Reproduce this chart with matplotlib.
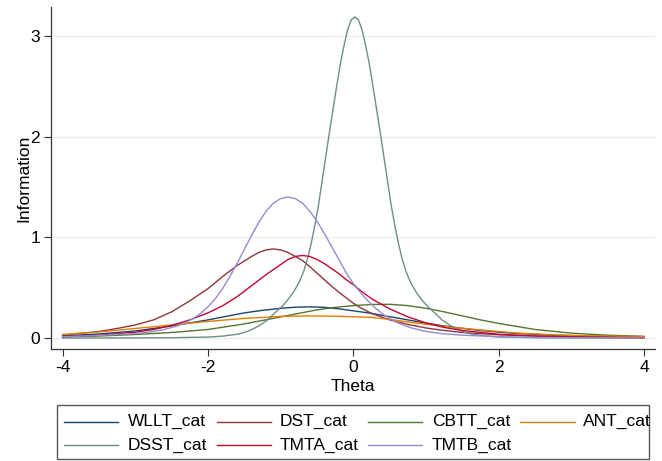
import matplotlib
matplotlib.use("Agg")
import matplotlib.pyplot as plt
from matplotlib.lines import Line2D
from matplotlib.patches import Rectangle

plt.rcParams['font.family'] = ['Liberation Sans', 'DejaVu Sans']

# ---- data (theta, information) ----
wllt_theta = [-4, -3.5, -3, -2.5, -2, -1.5, -1.25, -1, -0.8, -0.6, -0.4, -0.2, 0, 0.25, 0.5, 0.75, 1, 1.25,
              1.5, 1.75, 2, 2.25, 2.75, 3.25, 4]
wllt_info = [0.022, 0.04, 0.07, 0.12, 0.18, 0.25, 0.275, 0.295, 0.306, 0.31, 0.305, 0.29, 0.27, 0.245, 0.212, 0.18,
             0.148, 0.12, 0.096, 0.075, 0.058, 0.045, 0.028, 0.018, 0.01]

dst_theta = [-4, -3.5, -3.25, -3, -2.75, -2.5, -2.25, -2, -1.8, -1.6, -1.4, -1.3, -1.2, -1.1, -1, -0.9, -0.8,
             -0.7, -0.6, -0.5, -0.4, -0.3, -0.2, -0.1, 0, 0.1, 0.25, 0.5, 0.75, 1, 1.25, 1.5, 2, 2.5, 3, 4]
dst_info = [0.03, 0.065, 0.095, 0.13, 0.18, 0.26, 0.37, 0.49, 0.61, 0.72, 0.81, 0.85, 0.875, 0.885, 0.875, 0.85,
            0.81, 0.77, 0.71, 0.645, 0.58, 0.515, 0.455, 0.40, 0.345, 0.30, 0.245, 0.18, 0.135, 0.10, 0.075,
            0.055, 0.032, 0.02, 0.013, 0.006]

cbtt_theta = [-4, -3.5, -3, -2.5, -2, -1.5, -1, -0.5, -0.25, 0, 0.25, 0.5, 0.75, 1, 1.25, 1.5, 1.75, 2,
              2.5, 3, 3.5, 4]
cbtt_info = [0.012, 0.02, 0.035, 0.055, 0.085, 0.14, 0.21, 0.28, 0.305, 0.322, 0.333, 0.335, 0.322, 0.295,
             0.26, 0.22, 0.18, 0.145, 0.085, 0.048, 0.028, 0.017]

ant_theta = [-4, -3.5, -3, -2.5, -2, -1.5, -1, -0.6, -0.2, 0.25, 0.5, 0.75, 1, 1.25, 1.75, 2.25, 2.75, 3.25, 4]
ant_info = [0.035, 0.06, 0.095, 0.13, 0.165, 0.195, 0.215, 0.22, 0.216, 0.205, 0.185, 0.16, 0.137, 0.115,
            0.08, 0.05, 0.032, 0.022, 0.014]

dsst_theta = [-4, -3, -2.5, -1.98, -1.78, -1.58, -1.48, -1.38, -1.28, -1.18, -1.08, -0.98, -0.93, -0.88,
              -0.83, -0.78, -0.73, -0.68, -0.63, -0.58, -0.53, -0.48, -0.43, -0.38, -0.33, -0.28, -0.23,
              -0.18, -0.13, -0.08, -0.03, 0.02, 0.07, 0.12, 0.17, 0.22, 0.27, 0.32, 0.37, 0.42, 0.47, 0.52,
              0.57, 0.62, 0.67, 0.72, 0.77, 0.82, 0.87, 0.92, 0.97, 1.02, 1.12, 1.22, 1.32, 1.42, 1.52, 1.62,
              1.82, 2.02, 2.5, 3, 4]
dsst_info = [0.0, 0.001, 0.003, 0.01, 0.02, 0.04, 0.06, 0.09, 0.13, 0.18, 0.25, 0.315, 0.355, 0.40,
             0.45, 0.51, 0.58, 0.67, 0.79, 0.94, 1.12, 1.32, 1.56, 1.80, 2.04, 2.27, 2.50,
             2.72, 2.90, 3.06, 3.16, 3.19, 3.16, 3.06, 2.90, 2.72, 2.50, 2.27, 2.04, 1.80, 1.56, 1.32,
             1.12, 0.94, 0.79, 0.67, 0.58, 0.51, 0.45, 0.40, 0.355, 0.315, 0.25, 0.18, 0.13, 0.09, 0.06, 0.04,
             0.02, 0.01, 0.003, 0.001, 0.0]

tmta_theta = [-4, -3.5, -3, -2.75, -2.5, -2.25, -2, -1.8, -1.6, -1.4, -1.2, -1.1, -1, -0.9, -0.8, -0.7,
              -0.6, -0.5, -0.4, -0.3, -0.2, -0.1, 0, 0.1, 0.25, 0.5, 0.75, 1, 1.25, 1.5, 2, 2.5, 3, 4]
tmta_info = [0.012, 0.028, 0.058, 0.085, 0.125, 0.18, 0.25, 0.32, 0.41, 0.52, 0.63, 0.68, 0.73, 0.78, 0.81, 0.82,
             0.81, 0.78, 0.74, 0.69, 0.64, 0.58, 0.53, 0.47, 0.39, 0.29, 0.21, 0.15, 0.105, 0.075, 0.037,
             0.019, 0.01, 0.003]

tmtb_theta = [-4, -3.5, -3, -2.8, -2.6, -2.4, -2.3, -2.2, -2.1, -2, -1.9, -1.8, -1.7, -1.6, -1.5, -1.4, -1.3,
              -1.2, -1.1, -1, -0.9, -0.8, -0.7, -0.6, -0.5, -0.4, -0.3, -0.2, -0.1, 0, 0.1, 0.2, 0.3, 0.4,
              0.5, 0.6, 0.7, 0.8, 1, 1.2, 1.5, 2, 2.5, 3, 4]
tmtb_info = [0.013, 0.025, 0.045, 0.06, 0.085, 0.125, 0.155, 0.195, 0.245, 0.31, 0.39, 0.49, 0.61, 0.74, 0.88,
             1.02, 1.15, 1.26, 1.34, 1.385, 1.40, 1.385, 1.34, 1.26, 1.16, 1.04, 0.91, 0.78, 0.65, 0.54, 0.45,
             0.37, 0.30, 0.24, 0.195, 0.155, 0.125, 0.10, 0.065, 0.045, 0.028, 0.013, 0.006, 0.003, 0.001]

names = ["WLLT_cat", "DST_cat", "CBTT_cat", "ANT_cat", "DSST_cat", "TMTA_cat", "TMTB_cat"]
thetas = [wllt_theta, dst_theta, cbtt_theta, ant_theta, dsst_theta, tmta_theta, tmtb_theta]
infos = [wllt_info, dst_info, cbtt_info, ant_info, dsst_info, tmta_info, tmtb_info]
colors = ["#1a476f", "#90353b", "#55752f", "#e37e00", "#6e8e84", "#c10534", "#938dd2"]

y_ticks = [0, 1, 2, 3]
x_ticks = [-4, -2, 0, 2, 4]

W, H = 662, 461
fig = plt.figure(figsize=(W / 100, H / 100), dpi=100)
ax = fig.add_axes([51 / W, 1 - 349 / H, (655 - 51) / W, (349 - 7) / H])

for y in y_ticks:
    ax.axhline(y, color="#e9eff1", lw=0.9, zorder=0)

for th, inf, c in zip(thetas, infos, colors):
    ax.plot(th, inf, color=c, lw=1.0, solid_joinstyle="round")

ax.set_xlim(-4.16, 4.15)
ax.set_ylim(-0.109, 3.288)
ax.set_xticks(x_ticks)
ax.set_yticks(y_ticks)
ax.set_xticklabels([str(v) for v in x_ticks])
ax.set_yticklabels([str(v) for v in y_ticks])
ax.tick_params(direction="out", length=5, width=0.8, labelsize=12.5, color="#333333", pad=3)
for s in ["top", "right"]:
    ax.spines[s].set_visible(False)
for s in ["left", "bottom"]:
    ax.spines[s].set_color("#333333")
    ax.spines[s].set_linewidth(0.9)
ax.set_xlabel("Theta", fontsize=12.5, labelpad=3)
ax.set_ylabel("Information", fontsize=12.5, labelpad=-1)

# legend drawn in figure pixel coordinates
fig.add_artist(Rectangle((57 / W, 1 - 459 / H), (649 - 57) / W, (459 - 405) / H,
                         transform=fig.transFigure, fill=False, edgecolor="#555555", lw=1.0))
line_x = [(64, 118), (217, 271), (368, 422), (520, 575)]
text_x = [128, 280, 432, 583]
row_y = [421.5, 445]
for i, (nm, c) in enumerate(zip(names, colors)):
    r, col = divmod(i, 4)
    y = 1 - row_y[r] / H
    x0, x1 = line_x[col]
    fig.add_artist(Line2D([x0 / W, x1 / W], [y, y], transform=fig.transFigure, color=c, lw=1.0))
    fig.text(text_x[col] / W, y, nm, fontsize=12.5, va="center", ha="left")

fig.savefig("out.png", dpi=100)
